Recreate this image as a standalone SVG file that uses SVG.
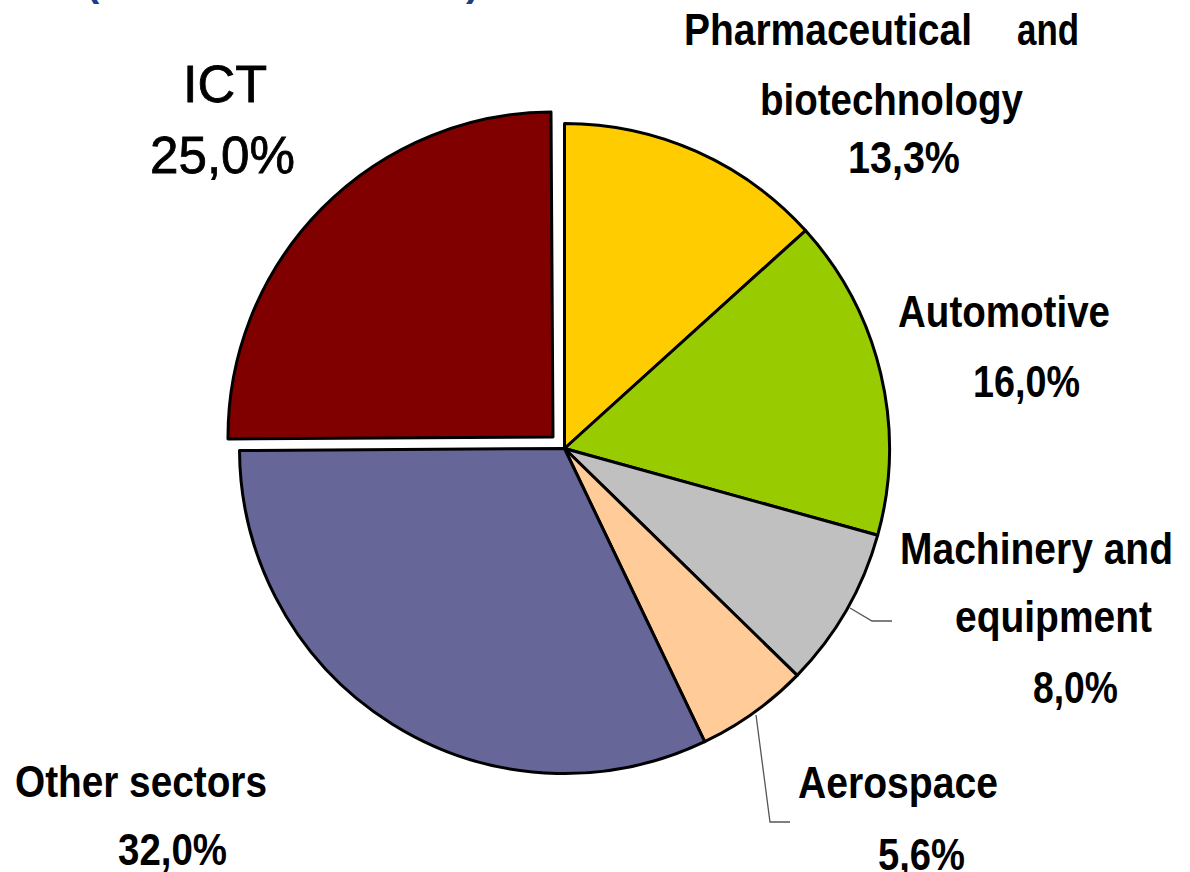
<svg xmlns="http://www.w3.org/2000/svg" width="1190" height="872" viewBox="0 0 1190 872">
<style>
.slice{stroke:#000;stroke-width:3;stroke-linejoin:round}
.lbl{font-family:"Liberation Sans",Arial,sans-serif;font-weight:bold;font-size:44px;fill:#000}
.big{font-family:"Liberation Sans",Arial,sans-serif;font-weight:normal;font-size:52px;fill:#000;stroke:#000;stroke-width:0.8}
.ttl{font-family:"Liberation Sans",Arial,sans-serif;font-weight:bold;font-size:40px;fill:#1F3C88}
.lead{fill:none;stroke:#555;stroke-width:1.3}
</style>
<rect width="1190" height="872" fill="#fff"/>
<g id="title-fragment">
<text class="ttl" x="86" y="-4">(</text>
<text class="ttl" x="255" y="-8">,</text>
<text class="ttl" x="466" y="-4">)</text>
</g>
<g id="slice-ict"><path class="slice" fill="#800000" d="M553,437 L228,439 A325,325 0 0 1 551,112 Z"/></g>
<g id="slice-pharma"><path class="slice" fill="#FFCC00" d="M564.5,448.5 L564.5,123.5 A325,325 0 0 1 805.55,230.52 Z"/></g>
<g id="slice-automotive"><path class="slice" fill="#99CC00" d="M564.5,448.5 L805.55,230.52 A325,325 0 0 1 877.7,535.2 Z"/></g>
<g id="slice-machinery"><path class="slice" fill="#C0C0C0" d="M564.5,448.5 L877.7,535.2 A325,325 0 0 1 797.2,675.4 Z"/></g>
<g id="slice-aerospace"><path class="slice" fill="#FFCC99" d="M564.5,448.5 L797.2,675.4 A325,325 0 0 1 704.7,741.7 Z"/></g>
<g id="slice-other"><path class="slice" fill="#666699" d="M564.5,448.5 L704.7,741.7 A325,325 0 0 1 239.5,450.5 Z"/></g>
<g id="connectors">
<polyline class="lead" points="850,608 872,621 892,621"/>
<polyline class="lead" points="756,715 770,822 790,822"/>
</g>
<g id="label-pharma">
<text class="lbl" x="684" y="45" textLength="288" lengthAdjust="spacingAndGlyphs">Pharmaceutical</text>
<text class="lbl" x="1017" y="45" textLength="62" lengthAdjust="spacingAndGlyphs">and</text>
<text class="lbl" x="760" y="115" textLength="263" lengthAdjust="spacingAndGlyphs">biotechnology</text>
<text class="lbl" x="848" y="173" textLength="112" lengthAdjust="spacingAndGlyphs">13,3%</text>
</g>
<g id="label-ict">
<text class="big" x="183" y="102" textLength="84" lengthAdjust="spacingAndGlyphs">ICT</text>
<text class="big" x="150" y="173" textLength="145" lengthAdjust="spacingAndGlyphs">25,0%</text>
</g>
<g id="label-automotive">
<text class="lbl" x="898" y="327" textLength="212" lengthAdjust="spacingAndGlyphs">Automotive</text>
<text class="lbl" x="973" y="397" textLength="107" lengthAdjust="spacingAndGlyphs">16,0%</text>
</g>
<g id="label-machinery">
<text class="lbl" x="900" y="564" textLength="273" lengthAdjust="spacingAndGlyphs">Machinery and</text>
<text class="lbl" x="955" y="632" textLength="197" lengthAdjust="spacingAndGlyphs">equipment</text>
<text class="lbl" x="1033" y="703" textLength="85" lengthAdjust="spacingAndGlyphs">8,0%</text>
</g>
<g id="label-aerospace">
<text class="lbl" x="798" y="798" textLength="200" lengthAdjust="spacingAndGlyphs">Aerospace</text>
<text class="lbl" x="878" y="870" textLength="87" lengthAdjust="spacingAndGlyphs">5,6%</text>
</g>
<g id="label-other">
<text class="lbl" x="15" y="797" textLength="252" lengthAdjust="spacingAndGlyphs">Other sectors</text>
<text class="lbl" x="118" y="865" textLength="109" lengthAdjust="spacingAndGlyphs">32,0%</text>
</g>
</svg>
